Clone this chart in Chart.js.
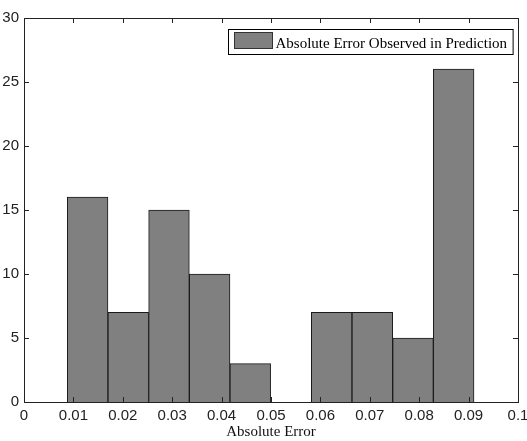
<!DOCTYPE html>
<html>
<head>
<meta charset="utf-8">
<script src="https://cdn.jsdelivr.net/npm/chart.js@4.4.0/dist/chart.umd.min.js"></script>
<style>
  body { margin: 0; background: #fff; }
  #wrap { width: 527px; height: 441px; }
</style>
</head>
<body>
<div id="wrap"><canvas id="histo" width="527" height="441"></canvas></div>
<script>
// bin centres (absolute error) and counts
var binCenters = [0.01288, 0.02111, 0.02935, 0.03758, 0.04581, 0.05405, 0.06228, 0.07051, 0.07875, 0.08698];
var binCounts = [16, 7, 15, 10, 3, 0, 7, 7, 5, 26];
var xTicks = [0, 0.01, 0.02, 0.03, 0.04, 0.05, 0.06, 0.07, 0.08, 0.09, 0.1];
var yTicks = [0, 5, 10, 15, 20, 25, 30];
var seriesName = 'Absolute Error Observed in Prediction';

var tickFont = '"Liberation Sans Narrow", "Arial Narrow", "Liberation Sans", Arial, sans-serif';
var serifFont = '"Liberation Serif", "Times New Roman", serif';

// box, inward ticks (all four sides) and legend inside the plot
var matlabAxes = {
    id: 'matlabAxes',
    afterDraw: function(chart) {
        var ctx = chart.ctx;
        var a = chart.chartArea;
        var xs = chart.scales.x, ys = chart.scales.y;
        var tl = 5;
        ctx.save();
        ctx.strokeStyle = '#222';
        ctx.lineWidth = 1;
        ctx.beginPath();
        xTicks.forEach(function(v) {
            var px = Math.round(xs.getPixelForValue(v)) + 0.5;
            ctx.moveTo(px, a.bottom); ctx.lineTo(px, a.bottom - tl);
            ctx.moveTo(px, a.top); ctx.lineTo(px, a.top + tl);
        });
        yTicks.forEach(function(v) {
            var py = Math.round(ys.getPixelForValue(v)) + 0.5;
            ctx.moveTo(a.left, py); ctx.lineTo(a.left + tl, py);
            ctx.moveTo(a.right, py); ctx.lineTo(a.right - tl, py);
        });
        ctx.stroke();
        ctx.strokeRect(Math.round(a.left) + 0.5, Math.round(a.top) + 0.5,
                       Math.round(a.right - a.left), Math.round(a.bottom - a.top));

        // legend
        ctx.font = '15px ' + serifFont;
        var tw = ctx.measureText(seriesName).width;
        var bw = 6 + 38 + 3 + tw + 6;
        var bx = Math.round(a.right - 5 - bw) + 0.5;
        var by = Math.round(a.top + 11) + 0.5;
        ctx.fillStyle = '#fff';
        ctx.fillRect(bx, by, bw, 25);
        ctx.strokeStyle = '#000';
        ctx.strokeRect(bx, by, bw, 25);
        ctx.fillStyle = '#808080';
        ctx.fillRect(bx + 6, by + 3, 38, 16);
        ctx.strokeStyle = '#333';
        ctx.strokeRect(bx + 6, by + 3, 38, 16);
        ctx.fillStyle = '#000';
        ctx.textBaseline = 'alphabetic';
        ctx.fillText(seriesName, bx + 6 + 38 + 3, by + 18);
        ctx.restore();
    }
};

var ctx = document.getElementById('histo').getContext('2d');
var chart = new Chart(ctx, {
    type: 'bar',
    data: {
        datasets: [{
            label: seriesName,
            data: binCenters.map(function(x, i) { return { x: x, y: binCounts[i] }; }),
            backgroundColor: '#808080',
            borderColor: '#1a1a1a',
            borderWidth: 1,
            barPercentage: 1,
            categoryPercentage: 1
        }]
    },
    options: {
        responsive: false,
        animation: false,
        layout: { padding: { left: 0, right: 9, top: 18, bottom: 0 } },
        plugins: {
            legend: { display: false },
            tooltip: { enabled: false }
        },
        scales: {
            x: {
                type: 'linear',
                min: 0,
                max: 0.1,
                offset: false,
                grid: { display: false, drawTicks: false, offset: false },
                border: { display: false },
                afterBuildTicks: function(scale) {
                    scale.ticks = xTicks.map(function(v) { return { value: v }; });
                },
                afterFit: function(scale) {
                    scale.height = 39;
                    scale.paddingLeft = 0;
                    scale.paddingRight = 0;
                },
                ticks: {
                    padding: 5,
                    maxRotation: 0,
                    autoSkip: false,
                    color: '#222',
                    font: { family: tickFont, size: 15 },
                    callback: function(v) { return String(Number(v.toFixed(2))); }
                },
                title: {
                    display: true,
                    text: 'Absolute Error',
                    color: '#111',
                    padding: { top: 0, bottom: 0 },
                    font: { family: serifFont, size: 15 }
                }
            },
            y: {
                min: 0,
                max: 30,
                grid: { display: false, drawTicks: false },
                border: { display: false },
                afterBuildTicks: function(scale) {
                    scale.ticks = yTicks.map(function(v) { return { value: v }; });
                },
                afterFit: function(scale) {
                    scale.width = 24;
                    scale.paddingTop = 0;
                    scale.paddingBottom = 0;
                },
                ticks: {
                    padding: 5,
                    color: '#222',
                    font: { family: tickFont, size: 15 }
                }
            }
        }
    },
    plugins: [matlabAxes]
});
</script>
</body>
</html>
